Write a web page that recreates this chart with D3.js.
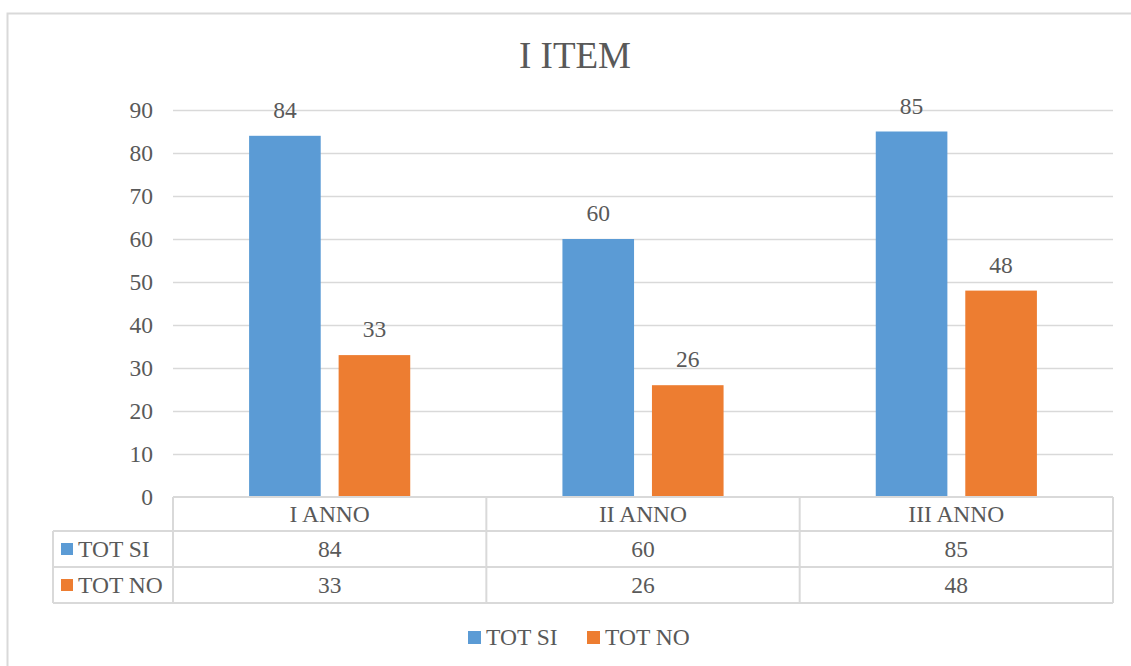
<!DOCTYPE html>
<html>
<head>
<meta charset="utf-8">
<script src="https://cdn.jsdelivr.net/npm/d3@7"></script>
<style>
  html, body { margin: 0; padding: 0; background: #fff; }
  svg { display: block; }
  svg text { font-family: "Liberation Serif", "Times New Roman", serif !important; fill: #595959; }
</style>
</head>
<body>
<svg id="chart" width="1131" height="666"></svg>
<script>
const title = "I ITEM";
const categories = ["I ANNO", "II ANNO", "III ANNO"];
const seriesNames = ["TOT SI", "TOT NO"];
const totSi = [84, 60, 85];
const totNo = [33, 26, 48];
const colors = ["#5B9BD5", "#ED7D31"];
const yTicks = [0, 10, 20, 30, 40, 50, 60, 70, 80, 90];

(function () {
const seriesValues = [totSi, totNo];
const svg = d3.select("#chart");
const grid = "#d9d9d9";
const fs = "23.5px";

// outer frame
svg.append("rect").attr("x", 7.5).attr("y", 13.5).attr("width", 1140).attr("height", 670)
  .attr("fill", "none").attr("stroke", grid).attr("stroke-width", 2);

// title
svg.append("text").attr("x", 575).attr("y", 68).attr("text-anchor", "middle")
  .style("font-size", "37px").text(title);

const pLeft = 173, pRight = 1113, pTop = 110, pBottom = 497;
const y = d3.scaleLinear().domain([0, 90]).range([pBottom, pTop]);
const x0 = d3.scaleBand().domain(categories).range([pLeft, pRight]).paddingInner(0).paddingOuter(0);
const x1 = d3.scaleBand().domain(seriesNames).range([0, x0.bandwidth()]).paddingInner(0.2).paddingOuter(0.85);

// gridlines
svg.append("g").selectAll("line").data(yTicks.filter(d => d > 0)).join("line")
  .attr("x1", pLeft).attr("x2", pRight)
  .attr("y1", d => Math.round(y(d)) + 0.5).attr("y2", d => Math.round(y(d)) + 0.5)
  .attr("stroke", grid).attr("stroke-width", 1.5);

// y axis labels
const yAxis = d3.axisLeft(y).tickValues(yTicks).tickSize(0).tickPadding(20);
const yg = svg.append("g").attr("transform", `translate(${pLeft},0)`).call(yAxis);
yg.attr("font-family", null).attr("font-size", null);
yg.select(".domain").remove();
yg.selectAll("text").style("font-size", fs).attr("fill", "#595959").attr("dy", "0.33em");

// bars
const groups = svg.append("g").selectAll("g").data(categories).join("g")
  .attr("transform", d => `translate(${x0(d)},0)`);
const cellData = (c, i) => seriesNames.map((s, j) => ({ s, v: seriesValues[j][i], j }));
groups.selectAll("rect").data(cellData).join("rect")
  .attr("x", d => x1(d.s)).attr("width", x1.bandwidth())
  .attr("y", d => y(d.v)).attr("height", d => y(0) - y(d.v))
  .attr("fill", d => colors[d.j]);
groups.selectAll("text.lbl").data(cellData).join("text").attr("class", "lbl")
  .attr("x", d => x1(d.s) + x1.bandwidth() / 2).attr("y", d => y(d.v) - 18)
  .attr("text-anchor", "middle").style("font-size", fs).text(d => d.v);

// data table
const tableLeft = 53;
const rowY = [497, 531, 567, 603];
const tg = svg.append("g").attr("stroke", grid).attr("stroke-width", 2).attr("fill", "none");
tg.append("line").attr("x1", pLeft).attr("x2", pRight).attr("y1", rowY[0]).attr("y2", rowY[0]);
rowY.slice(1).forEach(yy => tg.append("line").attr("x1", tableLeft).attr("x2", pRight).attr("y1", yy).attr("y2", yy));
[pLeft, ...categories.map(c => x0(c) + x0.bandwidth())].forEach(xx =>
  tg.append("line").attr("x1", xx).attr("x2", xx).attr("y1", rowY[0]).attr("y2", rowY[3]));
tg.append("line").attr("x1", tableLeft).attr("x2", tableLeft).attr("y1", rowY[1]).attr("y2", rowY[3]);

// header texts
svg.append("g").selectAll("text").data(categories).join("text")
  .attr("x", d => x0(d) + x0.bandwidth() / 2).attr("y", (rowY[0] + rowY[1]) / 2 + 8)
  .attr("text-anchor", "middle").style("font-size", fs).text(d => d);

// rows
seriesNames.forEach((s, j) => {
  const cy = (rowY[j + 1] + rowY[j + 2]) / 2;
  svg.append("rect").attr("x", 61).attr("y", cy - 6).attr("width", 12).attr("height", 12).attr("fill", colors[j]);
  svg.append("text").attr("x", 78).attr("y", cy + 8).style("font-size", fs).text(s);
  svg.append("g").selectAll("text").data(categories).join("text")
    .attr("x", d => x0(d) + x0.bandwidth() / 2).attr("y", cy + 8)
    .attr("text-anchor", "middle").style("font-size", fs)
    .text((d, i) => seriesValues[j][i]);
});

// bottom legend
const legX = [468, 587];
seriesNames.forEach((s, j) => {
  svg.append("rect").attr("x", legX[j]).attr("y", 631).attr("width", 13).attr("height", 13).attr("fill", colors[j]);
  svg.append("text").attr("x", legX[j] + 18).attr("y", 645).style("font-size", fs).text(s);
});
})();
</script>
</body>
</html>
